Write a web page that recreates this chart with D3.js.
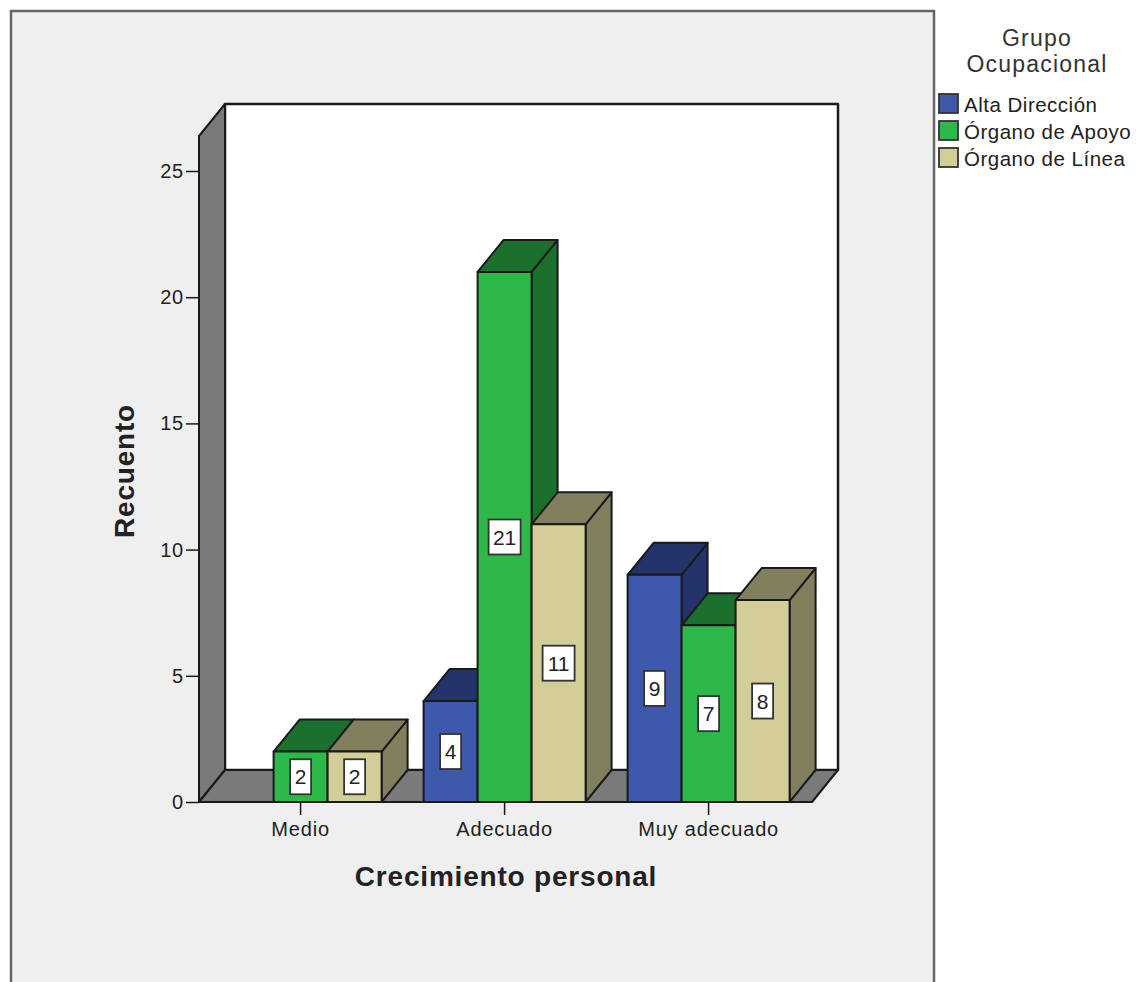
<!DOCTYPE html>
<html>
<head>
<meta charset="utf-8">
<script src="https://cdn.jsdelivr.net/npm/d3@7"></script>
<style>
html, body { margin: 0; padding: 0; background: #fff; }
svg { display: block; }
text { font-family: "Liberation Sans", Arial, sans-serif; fill: #222; }
</style>
</head>
<body>
<div id="chart"></div>
<script>
// counts per occupational group, null where a group has no bar
var categories = ["Medio", "Adecuado", "Muy adecuado"]
var groups = ["Alta Dirección", "Órgano de Apoyo", "Órgano de Línea"]
var altaDireccion = [null, 4, 9]
var organoApoyo = [2, 21, 7]
var organoLinea = [2, 11, 8]
var yTicks = [0, 5, 10, 15, 20, 25]

var frontColors = ["#3e58ac", "#2eb84a", "#d3ce97"]
var darkColors = ["#25336b", "#1c702d", "#827f5e"]

var width = 1143
var height = 982
var wallColor = "#7a7a7a"
var line = "#1a1a1a"

// oblique offset of the 3d box
var depthX = 26
var depthY = 32
var barWidth = 54

var svg = d3.select("#chart")
    .append("svg")
    .attr("width", width)
    .attr("height", height);

// chart panel
svg.append("rect")
    .attr("x", 11).attr("y", 11)
    .attr("width", 923).attr("height", 985)
    .attr("fill", "#efefef")
    .attr("stroke", "#666")
    .attr("stroke-width", 2.5);

var x = d3.scaleBand()
    .domain(categories)
    .range([198.6, 810.6])

// every group keeps its slot, even when it has no bar
var xGroup = d3.scaleBand()
    .domain(d3.range(groups.length))
    .range([-barWidth * groups.length / 2, barWidth * groups.length / 2])

var y = d3.scaleLinear()
    .domain([0, 25])
    .range([802, 171])

var xLeft = 199, xRight = 812
var y0 = y(0), yTop = 136

function poly(points) {
    return "M" + points.map(p => p.join(",")).join("L") + "Z"
}

// back wall, side wall and floor
var box = svg.append("g")
    .attr("stroke", line)
    .attr("stroke-width", 2)
    .attr("stroke-linejoin", "round");

box.append("path")
    .attr("d", poly([[xLeft + depthX, yTop - depthY], [xRight + depthX, yTop - depthY], [xRight + depthX, y0 - depthY], [xLeft + depthX, y0 - depthY]]))
    .attr("fill", "#fff")
    .attr("stroke-width", 2.5);

box.append("path")
    .attr("d", poly([[xLeft, yTop], [xLeft + depthX, yTop - depthY], [xLeft + depthX, y0 - depthY], [xLeft, y0]]))
    .attr("fill", wallColor);

box.append("path")
    .attr("d", poly([[xLeft, y0], [xLeft + depthX, y0 - depthY], [xRight + depthX, y0 - depthY], [xRight, y0]]))
    .attr("fill", wallColor);

// flatten the series into one row per drawn bar
var series = [altaDireccion, organoApoyo, organoLinea]
var bars = []
categories.forEach(function (c, ci) {
    var center = x(c) + x.bandwidth() / 2
    series.forEach(function (values, gi) {
        if (values[ci] === null) return
        var x0 = center + xGroup(gi)
        bars.push({ group: gi, value: values[ci], x0: x0, x1: x0 + xGroup.bandwidth() })
    })
})

// left to right so each bar covers the side of the one before it
var bar = svg.append("g")
    .attr("stroke", line)
    .attr("stroke-width", 2)
    .attr("stroke-linejoin", "round")
    .selectAll("g")
    .data(bars)
    .join("g");

bar.append("path")
    .attr("fill", d => darkColors[d.group])
    .attr("d", d => poly([[d.x1, y(d.value)], [d.x1 + depthX, y(d.value) - depthY], [d.x1 + depthX, y0 - depthY], [d.x1, y0]]));

bar.append("path")
    .attr("fill", d => darkColors[d.group])
    .attr("d", d => poly([[d.x0, y(d.value)], [d.x0 + depthX, y(d.value) - depthY], [d.x1 + depthX, y(d.value) - depthY], [d.x1, y(d.value)]]));

bar.append("rect")
    .attr("fill", d => frontColors[d.group])
    .attr("x", d => d.x0)
    .attr("y", d => y(d.value))
    .attr("width", d => d.x1 - d.x0)
    .attr("height", d => y0 - y(d.value));

// value boxes in the middle of each front face
var label = svg.append("g")
    .selectAll("g")
    .data(bars)
    .join("g")
    .attr("transform", d => `translate(${(d.x0 + d.x1) / 2},${(y(d.value) + y0) / 2})`);

label.append("rect")
    .attr("x", d => d.value > 9 ? -16 : -10.5)
    .attr("y", -17.5)
    .attr("width", d => d.value > 9 ? 32 : 21)
    .attr("height", 35)
    .attr("fill", "#fff")
    .attr("stroke", "#333")
    .attr("stroke-width", 1.8);

label.append("text")
    .attr("text-anchor", "middle")
    .attr("dy", "0.36em")
    .attr("font-size", 21)
    .text(d => d.value);

// axes
var yAxis = g => g
    .attr("transform", `translate(${xLeft},0)`)
    .call(d3.axisLeft(y).tickValues(yTicks).tickSize(13).tickPadding(2).tickSizeOuter(0))
    .call(g => g.select(".domain").remove())
    .call(g => g.selectAll("line").attr("stroke", line).attr("stroke-width", 1.5))
    .call(g => g.selectAll("text").attr("font-size", 20).attr("letter-spacing", 0.8).attr("font-family", null).attr("fill", null))

var xAxis = g => g
    .attr("transform", `translate(0,${y0})`)
    .call(d3.axisBottom(x).tickSize(13).tickPadding(7).tickSizeOuter(0))
    .call(g => g.select(".domain").remove())
    .call(g => g.selectAll("line").attr("stroke", line).attr("stroke-width", 1.5))
    .call(g => g.selectAll("text").attr("font-size", 20).attr("letter-spacing", 0.8).attr("font-family", null).attr("fill", null))

svg.append("g").call(yAxis);
svg.append("g").call(xAxis);

svg.append("line")
    .attr("x1", xLeft).attr("x2", xRight)
    .attr("y1", y0).attr("y2", y0)
    .attr("stroke", line)
    .attr("stroke-width", 2);

// axis titles
svg.append("text")
    .attr("x", 506).attr("y", 886)
    .attr("text-anchor", "middle")
    .attr("font-size", 28)
    .attr("letter-spacing", 0.8)
    .attr("font-weight", "bold")
    .text("Crecimiento personal");

svg.append("text")
    .attr("transform", "translate(134,471) rotate(-90)")
    .attr("text-anchor", "middle")
    .attr("font-size", 28)
    .attr("letter-spacing", 0.8)
    .attr("font-weight", "bold")
    .text("Recuento");

// legend
svg.append("text")
    .attr("x", 1037).attr("y", 46)
    .attr("text-anchor", "middle")
    .attr("font-size", 23)
    .attr("letter-spacing", 1.2)
    .style("fill", "#333")
    .text("Grupo");

svg.append("text")
    .attr("x", 1037).attr("y", 72)
    .attr("text-anchor", "middle")
    .attr("font-size", 23)
    .attr("letter-spacing", 1.2)
    .style("fill", "#333")
    .text("Ocupacional");

var legend = svg.append("g")
    .selectAll("g")
    .data(groups)
    .join("g")
    .attr("transform", (d, i) => `translate(939,${94 + i * 27})`);

legend.append("rect")
    .attr("width", 19).attr("height", 19)
    .attr("fill", (d, i) => frontColors[i])
    .attr("stroke", "#333")
    .attr("stroke-width", 1.8);

legend.append("text")
    .attr("x", 25).attr("y", 18)
    .attr("font-size", 20.5)
    .attr("letter-spacing", 0.5)
    .text(d => d);
</script>
</body>
</html>
